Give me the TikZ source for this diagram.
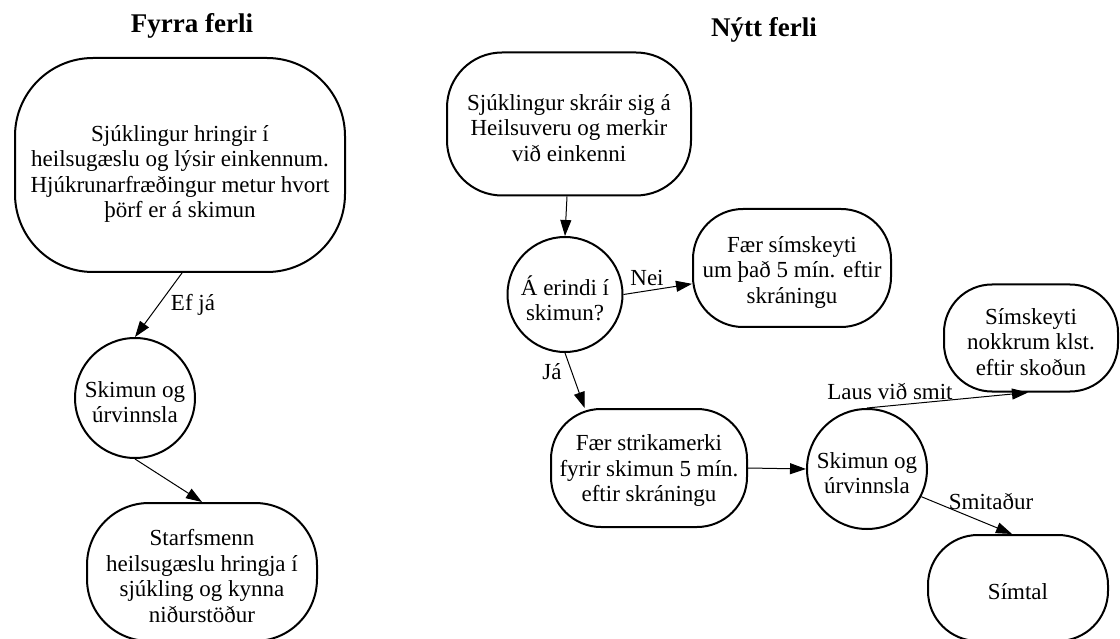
\documentclass[tikz,border=0pt]{standalone}
\usepackage{fontspec}
\setmainfont{Liberation Serif}
\usetikzlibrary{arrows.meta}
\newcommand\mfont{\fontsize{23}{25.5}\selectfont}
\newcommand\tfont{\fontsize{27}{30}\selectfont\bfseries}
\tikzset{
  txt/.style={font=\mfont, align=center, inner sep=0pt},
  box/.style={draw, line width=2pt, rounded corners=#1, inner sep=0pt},
  circ/.style={draw, circle, line width=2pt, inner sep=0pt},
  arr/.style={-{Triangle[length=16pt,width=11pt]}, line width=1pt},
  lbl/.style={font=\mfont, inner sep=0pt},
  ttl/.style={font=\tfont, inner sep=0pt, anchor=base}
}
\begin{document}
\begin{tikzpicture}[x=1pt,y=-1pt]
\useasboundingbox (0,0) rectangle (1120,639);
\clip (0,0) rectangle (1120,639);
\fill[white] (0,0) rectangle (1120,639);

% titles
\node[ttl] (h1) at (192,33) {Fyrra ferli};
\node[ttl] (h2) at (764,37) {Nýtt ferli};

% left column
\node[box=78pt, minimum width=330pt, minimum height=214pt,
  label={[txt,yshift=-9pt]center:{Sjúklingur hringir í\\heilsugæslu og lýsir einkennum.\\Hjúkrunarfræðingur metur hvort\\þörf er á skimun}}] (t1) at (180,165) {};
\node[circ, minimum size=120pt,
  label={[txt,yshift=-4pt]center:{Skimun og\\úrvinnsla}}] (c1) at (135,398) {};
\node[box=62pt, minimum width=230pt, minimum height=138pt,
  label={[txt,yshift=-4pt]center:{Starfsmenn\\heilsugæslu hringja í\\sjúkling og kynna\\niðurstöður}}] (b1) at (202,572) {};

% right column
\node[box=55pt, minimum width=244pt, minimum height=143pt,
  label={[txt,yshift=-4pt]center:{Sjúklingur skráir sig á\\Heilsuveru og merkir\\við einkenni}}] (r1) at (569,124) {};
\node[circ, minimum size=115pt,
  label={[txt,yshift=-4pt]center:{Á erindi í\\skimun?}}] (q) at (565,294.5) {};
\node[box=50pt, minimum width=198pt, minimum height=118pt,
  label={[txt,yshift=-4pt]center:{Fær símskeyti\\um það 5 mín. eftir\\skráningu}}] (nei) at (792,268) {};
\node[box=50pt, minimum width=196pt, minimum height=118pt,
  label={[txt,yshift=-3pt]center:{Fær strikamerki\\fyrir skimun 5 mín.\\eftir skráningu}}] (strik) at (649,468) {};
\node[circ, minimum size=120pt,
  label={[txt,yshift=-4pt]center:{Skimun og\\úrvinnsla}}] (c2) at (867,469) {};
\node[box=48pt, minimum width=174pt, minimum height=107pt,
  label={[txt,yshift=-4pt]center:{Símskeyti\\nokkrum klst.\\eftir skoðun}}] (sms) at (1031,338) {};
\node[box=50pt, minimum width=180pt, minimum height=106pt,
  label={[txt,yshift=-4pt]center:{Símtal}}] (simtal) at (1018,588) {};

% connectors
\draw[arr] ([xshift=2pt]t1.south) -- (c1.north);
\node[lbl] (lefja) at (193,305) {Ef já};
\draw[arr] (c1.south) -- (b1.north);

\draw[arr] ([xshift=-2pt]r1.south) -- (q.north);
\draw[arr] (q.east) -- (nei.189);
\node[lbl] (lnei) at (647,278) {Nei};
\draw[arr] (q.south) -- (strik.137);
\node[lbl] (lja) at (552,372) {Já};
\draw[arr] (strik.east) -- (c2.west);
\draw[arr] (c2.north) -- ([xshift=-3pt]sms.south);
\node[lbl] (llaus) at (890,392) {Laus við smit};
\draw[arr] (c2.-27) -- ([xshift=-6pt]simtal.north);
\node[lbl] (lsmit) at (991,502) {Smitaður};
\end{tikzpicture}
\end{document}
